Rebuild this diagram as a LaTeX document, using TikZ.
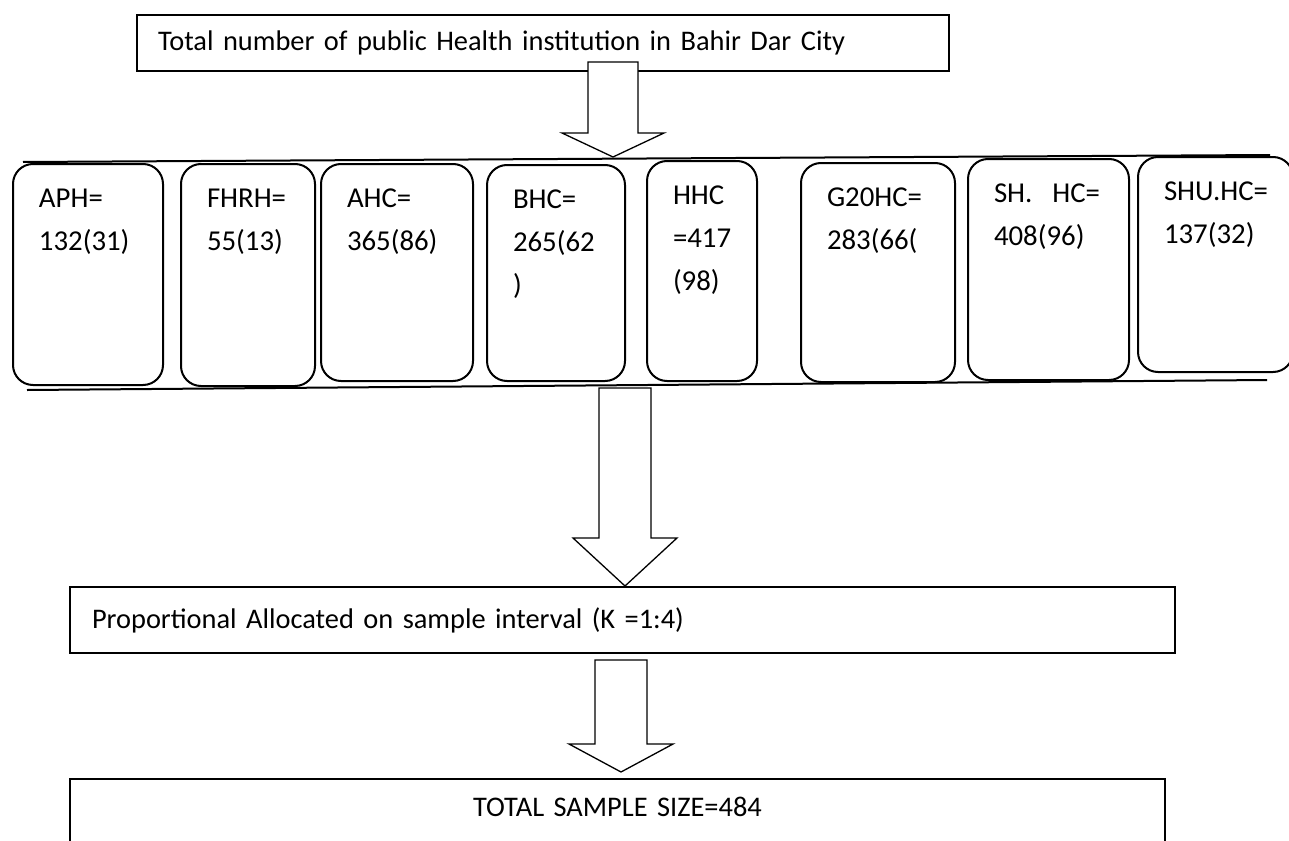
\documentclass[tikz,border=0pt]{standalone}
\usepackage{fontspec}
\setmainfont{Carlito}
\begin{document}
\begin{tikzpicture}[x=0.5pt,y=-0.5pt,font=\fontsize{14.2}{17}\selectfont,
  flowbox/.style={draw,line width=1pt,anchor=north west,align=left,inner xsep=10.5pt},
  inst/.style 2 args={draw,line width=1pt,rounded corners=10pt,anchor=north west,align=left,
    text width=#1,text height=9.5pt,text depth=#2,inner xsep=13pt,inner ysep=12pt,
    font=\fontsize{14.4}{21.5}\selectfont},
  blockarrow/.style={draw,fill=white,line width=0.65pt}]
  \useasboundingbox (0,0) rectangle (1289,840);
  \clip (0,0) rectangle (1289,840);
  % top box
  \node[flowbox,text width=385pt,minimum height=28pt] (total) at (136,14)
    {Total number of public Health institution in Bahir Dar City};
  \coordinate (tipA) at (613,157);
  \draw[blockarrow] (tipA) -- ++(-51,-24) -- ++(26,0) -- ++(0,-71) -- ++(50,0) -- ++(0,71) -- ++(26,0) -- cycle;
  % band with the institutions
  \draw[line width=1pt] (23,162) -- (1270,155);
  \draw[line width=1pt] (27,390) -- (1267,380);
  \node[inst={49pt}{77pt}] (aph) at (12,163) {APH=\\132(31)};
  \node[inst={41pt}{77.5pt}] (fhrh) at (180,163) {FHRH=\\55(13)};
  \node[inst={50pt}{75pt}] (ahc) at (320,163) {AHC=\\365(86)};
  \node[inst={43pt}{74.5pt}] (bhc) at (486,164) {BHC=\\265(62\\)};
  \node[inst={29pt}{76.5pt}] (hhc) at (646,160) {HHC\\=417\\(98)};
  \node[inst={51pt}{76pt}] (gtwenty) at (800,162) {G20HC=\\283(66(};
  \node[inst={54.5pt}{77pt}] (sh) at (967,158) {\mbox{SH.\hspace{10pt}HC=}\\408(96)};
  \node[inst={51.5pt}{74pt}] (shu) at (1137,156) {\mbox{SHU.HC=}\\137(32)};
  \coordinate (tipB) at (625,586);
  \draw[blockarrow] (tipB) -- ++(-52,-48) -- ++(26,0) -- ++(0,-150) -- ++(52,0) -- ++(0,150) -- ++(26,0) -- cycle;
  % allocation
  \node[flowbox,text width=530.5pt,inner xsep=11pt,minimum height=33pt] (alloc) at (69,586)
    {Proportional Allocated on sample interval (K =1:4)};
  \coordinate (tipC) at (621,772);
  \draw[blockarrow] (tipC) -- ++(-52,-28) -- ++(26,0) -- ++(0,-84) -- ++(52,0) -- ++(0,84) -- ++(26,0) -- cycle;
  % sample size
  \node[flowbox,align=center,text width=526.5pt,text height=9.5pt,text depth=40pt,inner ysep=9pt] (sample) at (69,778)
    {TOTAL SAMPLE SIZE=484};
\end{tikzpicture}
\end{document}
